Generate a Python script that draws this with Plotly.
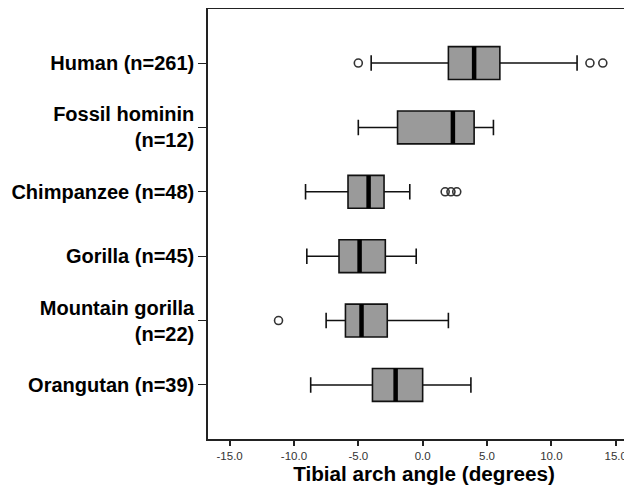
import plotly.graph_objects as go

categories = ["Human (n=261)", "Fossil hominin<br>(n=12)", "Chimpanzee (n=48)",
              "Gorilla (n=45)", "Mountain gorilla<br>(n=22)", "Orangutan (n=39)"]
lower_whisker = [-4.0, -5.0, -9.1, -9.0, -7.5, -8.7]
q1_vals = [2.0, -1.95, -5.8, -6.5, -6.0, -3.9]
median_vals = [4.0, 2.35, -4.2, -4.9, -4.75, -2.1]
q3_vals = [6.0, 4.0, -3.0, -2.9, -2.75, 0.0]
upper_whisker = [12.0, 5.5, -1.0, -0.5, 2.0, 3.75]
outliers = [[-5.0, 13.0, 14.0], [], [1.75, 2.2, 2.65], [], [-11.2], []]
x_ticks = [-15, -10, -5, 0, 5, 10, 15]

positions = list(range(len(categories)))
box_w = 0.51

fig = go.Figure()
for i, cat in enumerate(categories):
    fig.add_trace(go.Box(
        orientation="h", y=[positions[i]],
        q1=[q1_vals[i]], median=[median_vals[i]], q3=[q3_vals[i]],
        lowerfence=[lower_whisker[i]], upperfence=[upper_whisker[i]],
        width=box_w, whiskerwidth=0.47,
        fillcolor="#9a9a9a", line=dict(color="#111111", width=1.6),
        boxpoints=False, showlegend=False, hoverinfo="skip"))

# thick median bars
mx, my = [], []
for i in positions:
    mx += [median_vals[i], median_vals[i], None]
    my += [i - box_w / 2, i + box_w / 2, None]
fig.add_trace(go.Scatter(x=mx, y=my, mode="lines",
                         line=dict(color="black", width=4.5),
                         showlegend=False, hoverinfo="skip"))

# outliers
ox, oy = [], []
for i in positions:
    for v in outliers[i]:
        ox.append(v)
        oy.append(i)
fig.add_trace(go.Scatter(x=ox, y=oy, mode="markers",
                         marker=dict(symbol="circle-open", size=8,
                                     color="#333333", line=dict(width=1.6)),
                         showlegend=False, hoverinfo="skip"))

fig.update_layout(
    width=632, height=493,
    margin=dict(l=200, r=0, t=1, b=62, autoexpand=False),
    paper_bgcolor="white", plot_bgcolor="white",
    font=dict(family="Liberation Sans, Arial, sans-serif", color="black"),
    xaxis=dict(range=[-16.68, 16.89], tickvals=x_ticks,
               ticktext=[f"{v:.1f}" for v in x_ticks],
               ticks="outside", ticklen=5, tickwidth=1.5, tickcolor="#222",
               tickfont=dict(size=11.5, color="#333333"),
               showline=True, linecolor="#222", linewidth=1.5, mirror=True,
               showgrid=False, zeroline=False, automargin=False,
               title=dict(text="<b>Tibial arch angle (degrees)</b>",
                          font=dict(size=20.7, color="black"), standoff=2)),
    yaxis=dict(range=[5.84, -0.84], tickvals=positions,
               ticktext=[f"<b>{c}</b>" for c in categories],
               ticks="outside", ticklen=8, tickwidth=1.2, tickcolor="#222",
               tickfont=dict(size=20, color="black"),
               showline=True, linecolor="#222", linewidth=1.5,
               showgrid=False, zeroline=False, automargin=False),
)

fig.write_html("out.html")
